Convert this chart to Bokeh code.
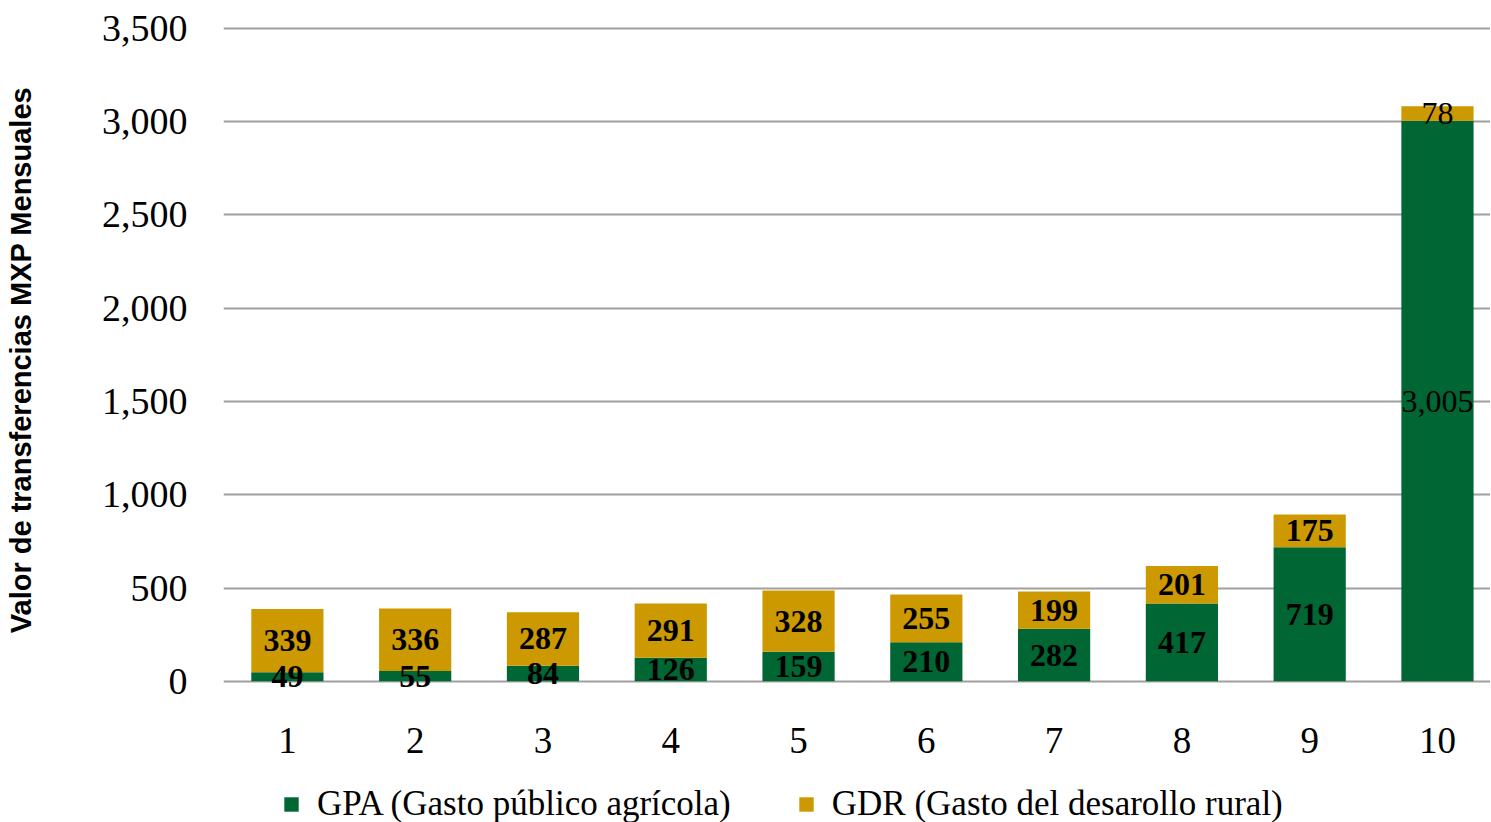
from bokeh.plotting import figure
from bokeh.models import (ColumnDataSource, Range1d, FixedTicker, NumeralTickFormatter,
                          LabelSet, Legend, LegendItem)
from bokeh.embed import file_html
from bokeh.resources import INLINE

categories = ["1", "2", "3", "4", "5", "6", "7", "8", "9", "10"]
positions = [1, 2, 3, 4, 5, 6, 7, 8, 9, 10]
gpa = [49, 55, 84, 126, 159, 210, 282, 417, 719, 3005]
gdr = [339, 336, 287, 291, 328, 255, 199, 201, 175, 78]
series_names = ["GPA (Gasto público agrícola)", "GDR (Gasto del desarollo rural)"]
y_title = "Valor de transferencias MXP Mensuales"
y_ticks = [0, 500, 1000, 1500, 2000, 2500, 3000, 3500]

GREEN = "#006633"
GOLD = "#CC9900"
SERIF = "Liberation Serif"
# label weight per bar (the last bar's labels are set in regular weight)
label_weights = ["bold"] * 9 + ["normal"]

src = ColumnDataSource(dict(
    x=positions, gpa=gpa, gdr=gdr,
    gpa_mid=[g / 2 for g in gpa],
    gdr_mid=[g + d / 2 for g, d in zip(gpa, gdr)],
    gpa_lbl=[f"{v:,}" for v in gpa],
    gdr_lbl=[f"{v:,}" for v in gdr],
    weight=label_weights,
))
cat_src = ColumnDataSource(dict(x=positions, label=categories,
                                y=[82] * len(categories)))

# frame extends below the value axis so that category labels and legend sit inside it
p = figure(width=1490, height=822, output_backend="svg", toolbar_location=None,
           x_range=Range1d(0.5, 10.415), y_range=Range1d(-756.5, 3510),
           min_border_left=223, min_border_top=26, min_border_right=0,
           min_border_bottom=0)
p.outline_line_color = None
p.xaxis.visible = False

renderers = p.vbar_stack(["gpa", "gdr"], x="x", width=0.565, source=src,
                         color=[GREEN, GOLD], line_color=None)

for col_y, col_t in (("gpa_mid", "gpa_lbl"), ("gdr_mid", "gdr_lbl")):
    p.add_layout(LabelSet(x="x", y=col_y, text=col_t, source=src,
                          text_align="center", text_baseline="middle",
                          text_font=SERIF, text_font_style="weight",
                          text_font_size="32px", text_color="black"))

# category (x) labels
p.add_layout(LabelSet(x="x", y="y", y_units="screen", text="label", source=cat_src,
                      text_align="center", text_baseline="middle",
                      text_font=SERIF, text_font_size="37px", text_color="black"))

# y axis
p.yaxis.ticker = FixedTicker(ticks=y_ticks)
p.yaxis.formatter = NumeralTickFormatter(format="0,0")
p.yaxis.axis_line_color = None
p.yaxis.major_tick_line_color = None
p.yaxis.minor_tick_line_color = None
p.yaxis.major_tick_out = 0
p.yaxis.major_tick_in = 0
p.yaxis.minor_tick_out = 0
p.yaxis.major_label_text_font = SERIF
p.yaxis.major_label_text_font_size = "38px"
p.yaxis.major_label_text_color = "black"
p.yaxis.major_label_standoff = 36
# leading no-break spaces lift the centred title to sit beside the value area
p.yaxis.axis_label = "\u00a0" * 16 + y_title
p.yaxis.axis_label_text_font = "Liberation Sans"
p.yaxis.axis_label_text_font_style = "bold"
p.yaxis.axis_label_text_font_size = "29px"
p.yaxis.axis_label_text_color = "black"
p.yaxis.axis_label_standoff = 62

p.xgrid.grid_line_color = None
p.ygrid.grid_line_color = "#A0A0A0"
p.ygrid.grid_line_width = 2

legend = Legend(items=[LegendItem(label=series_names[0], renderers=[renderers[0]]),
                       LegendItem(label=series_names[1], renderers=[renderers[1]])],
                orientation="horizontal", location=(59, -2),
                label_text_font=SERIF, label_text_font_size="35px",
                label_text_color="black",
                glyph_width=18, glyph_height=18, label_standoff=17,
                spacing=66, padding=0, margin=0, border_line_color=None,
                background_fill_alpha=0)
p.add_layout(legend)

open("out.html", "w").write(file_html(p, INLINE))
